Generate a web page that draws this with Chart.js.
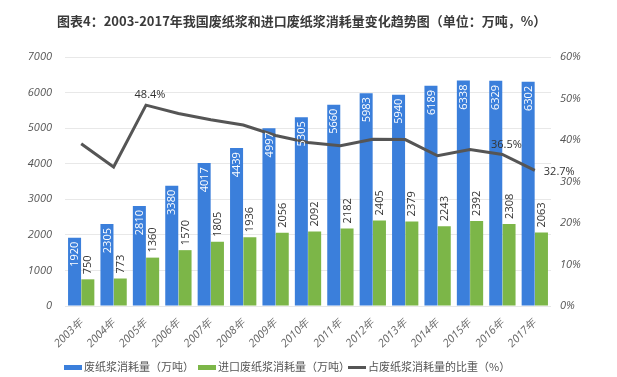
<!DOCTYPE html>
<html><head><meta charset="utf-8">
<script src="https://cdn.jsdelivr.net/npm/chart.js@4.4.0/dist/chart.umd.min.js"></script>
<style>
html,body{margin:0;padding:0;background:#fff;}
#wrap{position:relative;width:617px;height:377px;overflow:hidden;}
#title{position:absolute;left:57px;top:11px;font:bold 13px "Noto Sans CJK SC",sans-serif;color:#3a3a3a;white-space:nowrap;letter-spacing:0px;}
#legend{position:absolute;top:358px;left:0;font:11px "Noto Sans CJK SC",sans-serif;color:#555;}
.li{position:absolute;white-space:nowrap;line-height:16px;}
.sw{display:inline-block;width:18px;height:5px;vertical-align:middle;margin-right:2px;position:relative;top:-1px;}
canvas{position:absolute;left:0;top:0;}
</style></head>
<body><div id="wrap">
<canvas id="c" width="617" height="377"></canvas>
<div id="title">图表4：2003-2017年我国废纸浆和进口废纸浆消耗量变化趋势图（单位：万吨，%）</div>
<div id="legend">
<span class="li" style="left:64px"><span class="sw" style="background:#3b7fdb"></span>废纸浆消耗量（万吨）</span>
<span class="li" style="left:198px"><span class="sw" style="background:#7cb648"></span>进口废纸浆消耗量（万吨）</span>
<span class="li" style="left:348px"><span class="sw" style="background:#555;height:3px"></span>占废纸浆消耗量的比重（%）</span>
</div>
</div>
<script>
const categories = ['2003年','2004年','2005年','2006年','2007年','2008年','2009年','2010年','2011年','2012年','2013年','2014年','2015年','2016年','2017年'];
const totalPulp = [1920,2305,2810,3380,4017,4439,4997,5305,5660,5983,5940,6189,6338,6329,6302];
const importedPulp = [750,773,1360,1570,1805,1936,2056,2092,2182,2405,2379,2243,2392,2308,2063];
const share = [39.1,33.5,48.4,46.4,44.9,43.6,41.1,39.4,38.6,40.2,40.1,36.2,37.7,36.5,32.7];
const shareLabelIdx = [2,13,14];
const leftTicks = [0,1000,2000,3000,4000,5000,6000,7000];
const rightTicks = [0,10,20,30,40,50,60];

const labelPlugin = {
  id:'labels',
  afterDatasetsDraw(chart){
    const ctx = chart.ctx;
    ctx.save();
    ctx.font = '11px "Open Sans", sans-serif';
    ctx.textBaseline = 'middle';
    const m0 = chart.getDatasetMeta(1), m1 = chart.getDatasetMeta(2), m2 = chart.getDatasetMeta(0);
    m0.data.forEach((b,i)=>{
      ctx.save(); ctx.translate(b.x+0.5, b.y+4); ctx.rotate(-Math.PI/2);
      ctx.textAlign='right'; ctx.fillStyle='#fff'; ctx.fillText(String(totalPulp[i]),0,0); ctx.restore();
    });
    m1.data.forEach((b,i)=>{
      ctx.save(); ctx.translate(b.x+0.5, b.y-5); ctx.rotate(-Math.PI/2);
      ctx.textAlign='left'; ctx.fillStyle='#333'; ctx.fillText(String(importedPulp[i]),0,0); ctx.restore();
    });
    ctx.fillStyle='#333';
    shareLabelIdx.forEach(i=>{
      const p = m2.data[i];
      const t = share[i].toFixed(1)+'%';
      if(i===14){ ctx.textAlign='left'; ctx.fillText(t,p.x+9,p.y+2); }
      else { ctx.textAlign='center'; ctx.fillText(t,p.x+4,p.y-10); }
    });
    ctx.restore();
  }
};

new Chart(document.getElementById('c'),{
  data:{
    labels:categories,
    datasets:[
      {type:'line',label:'占废纸浆消耗量的比重（%）',data:share,yAxisID:'y1',borderColor:'#555',borderWidth:3,pointRadius:0,tension:0,order:0},
      {type:'bar',label:'废纸浆消耗量（万吨）',data:totalPulp,yAxisID:'y',backgroundColor:'#3b7fdb',categoryPercentage:0.82,barPercentage:0.98,order:1},
      {type:'bar',label:'进口废纸浆消耗量（万吨）',data:importedPulp,yAxisID:'y',backgroundColor:'#7cb648',categoryPercentage:0.82,barPercentage:0.98,order:1}
    ]
  },
  options:{
    responsive:false,animation:false,
    layout:{padding:{top:57,left:0,right:0,bottom:0}},
    plugins:{legend:{display:false},title:{display:false},tooltip:{enabled:false}},
    scales:{
      x:{
        grid:{display:false},border:{display:false},
        ticks:{color:'#666',font:{family:'"Open Sans", sans-serif',size:11,style:'italic'},maxRotation:45,minRotation:45,padding:2},
        afterFit(s){s.height=71;}
      },
      y:{
        position:'left',min:0,max:7000,
        afterBuildTicks(s){s.ticks=leftTicks.map(v=>({value:v}));},
        grid:{color:'#e8e8e8',drawTicks:false},border:{display:false},
        ticks:{color:'#555',font:{family:'"Open Sans", sans-serif',size:11,style:'italic'},padding:13,callback:v=>String(v)},
        afterFit(s){s.width=65;}
      },
      y1:{
        position:'right',min:0,max:60,
        afterBuildTicks(s){s.ticks=rightTicks.map(v=>({value:v}));},
        grid:{display:false,drawTicks:false},border:{display:false},
        ticks:{color:'#555',font:{family:'"Open Sans", sans-serif',size:11,style:'italic'},padding:9,callback:v=>v+'%'},
        afterFit(s){s.width=66;}
      }
    }
  },
  plugins:[labelPlugin]
});
</script>
</body></html>
